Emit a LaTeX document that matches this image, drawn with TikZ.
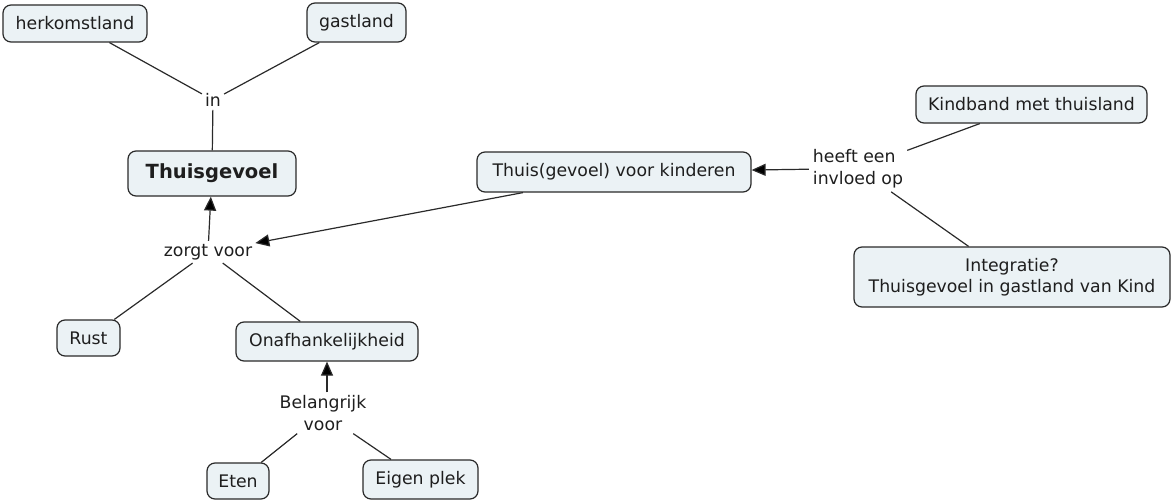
\documentclass[tikz,border=0pt]{standalone}
\usepackage{fontspec}
\setmainfont{DejaVu Sans}
\usetikzlibrary{arrows.meta}
\definecolor{boxfill}{HTML}{EBF2F5}
\definecolor{ink}{HTML}{1E1E1E}
\definecolor{edge}{HTML}{2A2A2A}
\begin{document}
\begin{tikzpicture}[x=1pt,y=-1pt,
  txt/.style={font=\fontsize{17.3}{21.5}\selectfont, text=ink},
  concept/.style={txt, draw=edge, fill=boxfill, rounded corners=8pt, line width=1.2pt, inner sep=0pt, align=center},
  phrase/.style={txt, inner sep=3pt, align=center},
  link/.style={draw=edge, line width=1.2pt},
  arr/.style={link, -{Triangle[length=14pt,width=12pt,fill=black]}}
]
\useasboundingbox (0,0) rectangle (1171,503);

% concepts
\node[concept, minimum width=144pt, minimum height=37pt] (herk) at (75,23.5) {herkomstland};
\node[concept, minimum width=99pt, minimum height=39pt] (gast) at (356.5,22.5) {gastland};
\node[concept, minimum width=168pt, minimum height=45pt, font=\fontsize{19.5}{23}\selectfont\bfseries] (thuis) at (212,173.5) {Thuisgevoel};
\node[concept, minimum width=63pt, minimum height=36pt] (rust) at (88.5,338) {Rust};
\node[concept, minimum width=182pt, minimum height=39pt] (onaf) at (327,341.5) {Onafhankelijkheid};
\node[concept, minimum width=62pt, minimum height=36pt] (eten) at (238,481) {Eten};
\node[concept, minimum width=115pt, minimum height=39pt] (eigen) at (420.5,479.5) {Eigen plek};
\node[concept, minimum width=274pt, minimum height=40pt] (kinder) at (614,172) {Thuis(gevoel) voor kinderen};
\node[concept, minimum width=231pt, minimum height=37pt] (kind) at (1031.5,104.5) {Kindband met thuisland};
\node[concept, minimum width=316pt, minimum height=60pt] (integ) at (1012,277) {Integratie?\\ Thuisgevoel in gastland van Kind};

% linking phrases
\node[phrase] (in) at (213,100) {in};
\node[phrase] (zorgt) at (208,252) {zorgt voor};
\node[phrase] (belang) at (323,413) {Belangrijk\\voor};
\node[phrase, align=left, inner sep=4pt] (heeft) at (858,168.5) {heeft een\\invloed op};

% connectors
\draw[link] (herk) -- (in);
\draw[link] (gast) -- (in);
\draw[link] (in) -- (thuis);
\draw[arr] (zorgt) -- (thuis);
\draw[link] (zorgt) -- (rust);
\draw[link] (zorgt) -- (onaf);
\draw[arr] ([xshift=-91pt]kinder.south) -- (zorgt);
\draw[arr] (belang.north -| onaf.south) -- (onaf.south);
\draw[link] (belang) -- (eten);
\draw[link] (belang) -- (eigen);
\draw[arr] (heeft) -- (kinder);
\draw[link] (kind) -- (heeft);
\draw[link] (integ) -- (heeft);
\end{tikzpicture}
\end{document}
